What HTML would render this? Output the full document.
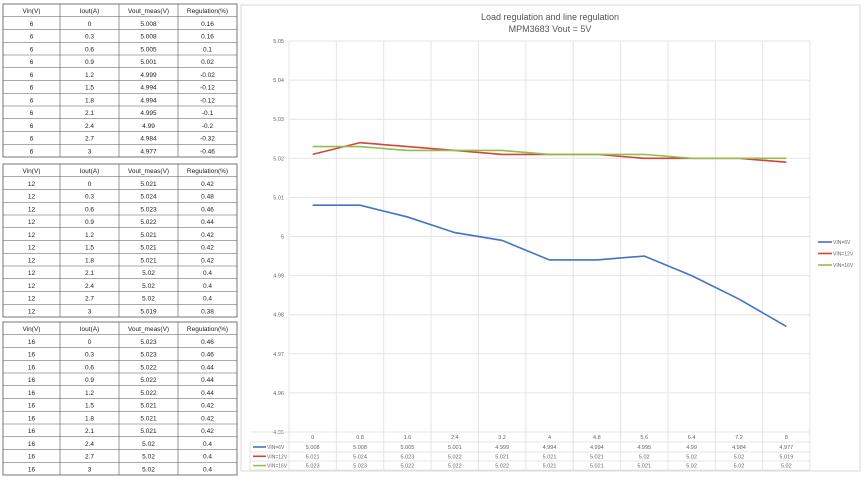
<!DOCTYPE html>
<html><head><meta charset="utf-8"><style>
body{margin:0;background:#fff;width:865px;height:476px;overflow:hidden;font-family:"Liberation Sans",sans-serif}
svg text{font-family:"Liberation Sans",sans-serif}
</style></head><body>
<svg id="s" width="865" height="476" xmlns="http://www.w3.org/2000/svg"></svg>
<script>
const s=document.getElementById('s');let h='';
const I=[0,0.3,0.6,0.9,1.2,1.5,1.8,2.1,2.4,2.7,3];
const D={6:[5.008,5.008,5.005,5.001,4.999,4.994,4.994,4.995,4.99,4.984,4.977],
12:[5.021,5.024,5.023,5.022,5.021,5.021,5.021,5.02,5.02,5.02,5.019],
16:[5.023,5.023,5.022,5.022,5.022,5.021,5.021,5.021,5.02,5.02,5.02]};
const R={6:[0.16,0.16,0.1,0.02,-0.02,-0.12,-0.12,-0.1,-0.2,-0.32,-0.46],
12:[0.42,0.48,0.46,0.44,0.42,0.42,0.42,0.4,0.4,0.4,0.38],
16:[0.46,0.46,0.44,0.44,0.44,0.42,0.42,0.42,0.4,0.4,0.4]};
const cx=[3,60,119,178,237];
[[6,4],[12,164],[16,322]].forEach(([v,y0])=>{
 const rh=12.75;
 h+=`<rect x="3" y="${y0}" width="234" height="${rh*12}" fill="#fff" stroke="#555" stroke-width="0.8"/>`;
 for(let r=1;r<12;r++)h+=`<line x1="3" x2="237" y1="${y0+r*rh}" y2="${y0+r*rh}" stroke="#555" stroke-width="0.6"/>`;
 for(let c=1;c<4;c++)h+=`<line x1="${cx[c]}" x2="${cx[c]}" y1="${y0}" y2="${y0+rh*12}" stroke="#555" stroke-width="0.6"/>`;
 const rows=[["Vin(V)","Iout(A)","Vout_meas(V)","Regulation(%)"]];
 for(let i=0;i<11;i++)rows.push([v,I[i],D[v][i],R[v][i]]);
 rows.forEach((row,r)=>row.forEach((t,c)=>{h+=`<text x="${(cx[c]+cx[c+1])/2}" y="${y0+r*rh+9}" font-size="${r?6.5:6.5}" text-anchor="middle" fill="#222">${t}</text>`}));
});
// chart
h+=`<rect x="241" y="5" width="619" height="466" fill="#fff" stroke="#d9d9d9"/>`;
h+=`<text x="550" y="20" font-size="9" text-anchor="middle" fill="#555">Load regulation and line regulation</text>`;
h+=`<text x="550" y="32" font-size="9" text-anchor="middle" fill="#555">MPM3683 Vout = 5V</text>`;
const L=289,W=521,cw=W/11,yT=41,step=39.1;
const Y=v=>yT+(5.05-v)*100*step;
for(let k=0;k<=10;k++){const y=yT+k*step;h+=`<line x1="${L}" x2="${L+W}" y1="${y}" y2="${y}" stroke="#e4e4e4"/>`;
 h+=`<text x="284" y="${y+2}" font-size="5.5" text-anchor="end" fill="#666">${+(5.05-k*0.01).toFixed(2)}</text>`;}
for(let c=0;c<=11;c++){const x=L+c*cw;h+=`<line x1="${x}" x2="${x}" y1="${yT}" y2="470" stroke="#e4e4e4"/>`;}
[432,442,452,461,470].forEach(y=>h+=`<line x1="250" x2="${L+W}" y1="${y}" y2="${y}" stroke="#e4e4e4"/>`);
h+=`<line x1="250" x2="250" y1="442" y2="470" stroke="#e4e4e4"/>`;
const xl=[0,0.8,1.6,2.4,3.2,4,4.8,5.6,6.4,7.2,8];
xl.forEach((t,i)=>h+=`<text x="${L+cw*(i+.5)}" y="439" font-size="5.5" text-anchor="middle" fill="#666">${t}</text>`);
const col={6:"#4472c4",12:"#d9413b",16:"#8fbf4d"};
[6,12,16].forEach((v,j)=>{
 const pts=D[v].map((d,i)=>`${L+cw*(i+.5)},${Y(d)}`).join(' ');
 h+=`<polyline points="${pts}" fill="none" stroke="${col[v]}" stroke-width="1.6"/>`;
 const ry=449+j*9.3;
 h+=`<line x1="253" x2="266" y1="${ry-2}" y2="${ry-2}" stroke="${col[v]}" stroke-width="1.6"/><text x="267" y="${ry}" font-size="5" fill="#666">VIN=${v}V</text>`;
 D[v].forEach((d,i)=>h+=`<text x="${L+cw*(i+.5)}" y="${ry}" font-size="5.5" text-anchor="middle" fill="#666">${d}</text>`);
 const ly=242+j*11.5;
 h+=`<line x1="818" x2="832" y1="${ly}" y2="${ly}" stroke="${col[v]}" stroke-width="1.6"/><text x="833" y="${ly+2}" font-size="5" fill="#666">VIN=${v}V</text>`;
});
s.innerHTML=h;
</script>
</body></html>
